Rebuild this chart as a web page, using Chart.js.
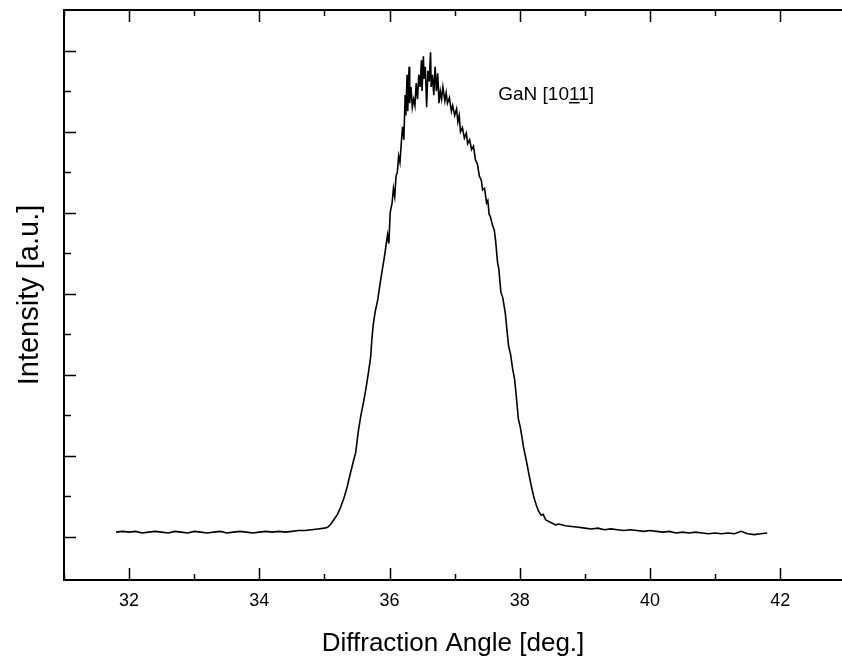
<!DOCTYPE html>
<html>
<head>
<meta charset="utf-8">
<script src="https://cdn.jsdelivr.net/npm/chart.js@4.4.1/dist/chart.umd.min.js"></script>
<style>
  body { margin: 0; background: #fff; }
  canvas { display: block; }
</style>
</head>
<body>
<canvas id="xrd" width="842" height="668"></canvas>
<script>
// diffraction angle (deg) and intensity (a.u.)
const angles = [
    31.8, 31.9, 32.0, 32.1, 32.2, 32.3, 32.4, 32.5, 32.6, 32.7,
    32.8, 32.9, 33.0, 33.1, 33.2, 33.3, 33.4, 33.5, 33.6, 33.7,
    33.8, 33.9, 34.0, 34.1, 34.2, 34.3, 34.4, 34.5, 34.6, 34.7,
    34.8, 34.9, 35.0,
    35.05, 35.10, 35.15, 35.20, 35.25, 35.30, 35.35, 35.40, 35.45, 35.48,
    35.52, 35.56, 35.60, 35.64, 35.68, 35.71, 35.73, 35.75, 35.78, 35.82,
    35.86, 35.89, 35.92, 35.94, 35.97, 35.99, 36.01, 36.04, 36.06, 36.08,
    36.10, 36.12, 36.14, 36.16, 36.18, 36.20, 36.22, 36.24, 36.25, 36.27,
    36.28, 36.30, 36.31, 36.33, 36.35, 36.37, 36.39, 36.41, 36.43, 36.45,
    36.47, 36.49, 36.50, 36.52, 36.53, 36.55, 36.57, 36.59, 36.61, 36.63,
    36.64, 36.66, 36.68, 36.70, 36.72, 36.74, 36.76, 36.78, 36.80, 36.82,
    36.85, 36.87, 36.89, 36.92, 36.95, 36.97, 37.00, 37.03, 37.05, 37.07,
    37.09, 37.12, 37.15, 37.18, 37.20, 37.23, 37.26, 37.29, 37.32, 37.35,
    37.38, 37.41, 37.43, 37.46, 37.49, 37.51, 37.53, 37.55, 37.58, 37.61,
    37.63, 37.66, 37.68, 37.71, 37.74, 37.76, 37.78, 37.81, 37.83, 37.86,
    37.89, 37.92, 37.94, 37.96, 37.98, 38.01, 38.04, 38.06, 38.10, 38.14,
    38.18, 38.22, 38.26, 38.29, 38.33, 38.36, 38.40, 38.45, 38.50, 38.55,
    38.6, 38.7, 38.8, 38.9, 39.0, 39.1, 39.2, 39.3, 39.4, 39.5,
    39.6, 39.7, 39.8, 39.9, 40.0, 40.1, 40.2, 40.3, 40.4, 40.5,
    40.6, 40.7, 40.8, 40.9, 41.0, 41.1, 41.2, 41.3, 41.4, 41.5,
    41.6, 41.7, 41.8
];
const intensity = [
    0.06, 0.07, 0.06, 0.07, 0.05, 0.06, 0.07, 0.06, 0.05, 0.07,
    0.06, 0.05, 0.07, 0.06, 0.05, 0.06, 0.07, 0.05, 0.06, 0.07,
    0.06, 0.05, 0.06, 0.07, 0.06, 0.07, 0.06, 0.07, 0.08, 0.08,
    0.09, 0.10, 0.11,
    0.12, 0.16, 0.22, 0.28, 0.37, 0.48, 0.62, 0.79, 0.95, 1.04,
    1.30, 1.50, 1.66, 1.84, 2.05, 2.22, 2.45, 2.62, 2.78, 2.93,
    3.15, 3.30, 3.45, 3.56, 3.73, 3.62, 4.00, 4.12, 4.30, 4.20,
    4.45, 4.50, 4.70, 4.62, 4.85, 5.06, 4.90, 5.45, 5.20, 5.70,
    5.25, 5.80, 5.35, 5.55, 5.30, 5.40, 5.32, 5.60, 5.40, 5.70,
    5.55, 5.88, 5.50, 5.93, 5.65, 5.80, 5.30, 5.75, 5.62, 5.98,
    5.55, 5.70, 5.45, 5.80, 5.50, 5.72, 5.35, 5.50, 5.40, 5.55,
    5.38, 5.48, 5.35, 5.42, 5.25, 5.32, 5.20, 5.28, 5.12, 5.20,
    5.00, 5.05, 4.92, 4.98, 4.85, 4.90, 4.78, 4.82, 4.65, 4.60,
    4.45, 4.40, 4.28, 4.30, 4.12, 4.15, 3.98, 3.95, 3.85, 3.78,
    3.65, 3.38, 3.30, 3.02, 2.95, 2.85, 2.75, 2.50, 2.35, 2.25,
    2.08, 1.95, 1.80, 1.62, 1.45, 1.35, 1.20, 1.10, 0.95, 0.78,
    0.62, 0.48, 0.38, 0.32, 0.27, 0.28, 0.21, 0.19, 0.17, 0.15,
    0.16, 0.14, 0.13, 0.12, 0.11, 0.10, 0.11, 0.09, 0.10, 0.09,
    0.08, 0.09, 0.08, 0.07, 0.08, 0.07, 0.06, 0.07, 0.05, 0.06,
    0.05, 0.06, 0.05, 0.04, 0.05, 0.04, 0.05, 0.04, 0.07, 0.04,
    0.03, 0.04, 0.05
];

// tick marks (no y labels in the original)
const xTicks = [31, 32, 33, 34, 35, 36, 37, 38, 39, 40, 41, 42];
const xTickLabels = ["", "32", "", "34", "", "36", "", "38", "", "40", "", "42"];
const yTicks = [0, 0.5, 1, 1.5, 2, 2.5, 3, 3.5, 4, 4.5, 5, 5.5, 6];

const peakLabel = ["GaN [10", "1", "1]"]; // middle digit carries the bar
const peakLabelAt = { angle: 37.67, value: 5.48 };

const FONT = "'Liberation Sans', Arial, sans-serif";

const frame = {
    id: "frame",
    afterDraw(chart) {
        const { ctx, chartArea: a, scales: { x, y } } = chart;
        ctx.save();
        ctx.strokeStyle = "#000";
        ctx.lineWidth = 2;
        ctx.beginPath();
        ctx.moveTo(a.right, a.top);
        ctx.lineTo(a.left, a.top);
        ctx.lineTo(a.left, a.bottom);
        ctx.lineTo(a.right, a.bottom);
        ctx.stroke();

        ctx.lineWidth = 1.5;
        ctx.beginPath();
        xTicks.forEach(v => {
            const px = Math.round(x.getPixelForValue(v)) + 0.5;
            const len = v % 2 === 0 ? 12 : 6;
            ctx.moveTo(px, a.bottom);
            ctx.lineTo(px, a.bottom - len);
            ctx.moveTo(px, a.top);
            ctx.lineTo(px, a.top + len);
        });
        yTicks.forEach(v => {
            const py = Math.round(y.getPixelForValue(v)) + 0.5;
            const len = Number.isInteger(v) ? 12 : 7;
            ctx.moveTo(a.left, py);
            ctx.lineTo(a.left + len, py);
        });
        ctx.stroke();

        // peak annotation, bar drawn as underline
        ctx.font = "19px " + FONT;
        ctx.fillStyle = "#000";
        ctx.textBaseline = "alphabetic";
        const tx = x.getPixelForValue(peakLabelAt.angle);
        const ty = y.getPixelForValue(peakLabelAt.value) + 7;
        const w0 = ctx.measureText(peakLabel[0]).width;
        const w1 = ctx.measureText(peakLabel[1]).width;
        ctx.fillText(peakLabel.join(""), tx, ty);
        ctx.lineWidth = 1.5;
        ctx.beginPath();
        ctx.moveTo(tx + w0, ty + 3);
        ctx.lineTo(tx + w0 + w1, ty + 3);
        ctx.stroke();
        ctx.restore();
    }
};

new Chart(document.getElementById("xrd"), {
    type: "line",
    plugins: [frame],
    data: {
        labels: angles,
        datasets: [{
            data: angles.map((a, i) => ({ x: a, y: intensity[i] })),
            borderColor: "#000",
            borderWidth: 1.6,
            pointRadius: 0,
            tension: 0,
            fill: false
        }]
    },
    options: {
        responsive: false,
        animation: false,
        layout: { padding: { top: 10, right: 0, left: 0, bottom: 0 } },
        plugins: { legend: { display: false }, tooltip: { enabled: false } },
        scales: {
            x: {
                type: "linear",
                min: 31,
                max: 42.95,
                afterBuildTicks: s => { s.ticks = xTicks.map(v => ({ value: v })); },
                afterFit: s => { s.height = 88; },
                grid: { display: false, drawTicks: false },
                border: { display: false },
                ticks: {
                    autoSkip: false,
                    maxRotation: 0,
                    padding: 10,
                    color: "#000",
                    font: { family: FONT, size: 18 },
                    callback: (v, i) => xTickLabels[i]
                },
                title: {
                    display: true,
                    text: "Diffraction Angle [deg.]",
                    color: "#000",
                    font: { family: FONT, size: 26 },
                    padding: { top: 0, bottom: 9 }
                }
            },
            y: {
                min: -0.53,
                max: 6.5,
                afterFit: s => { s.width = 64; },
                grid: { display: false, drawTicks: false },
                border: { display: false },
                ticks: { display: false },
                title: {
                    display: true,
                    text: "Intensity [a.u.]",
                    color: "#000",
                    font: { family: FONT, size: 29 },
                    padding: { top: 13, bottom: 0 }
                }
            }
        }
    }
});
</script>
</body>
</html>
